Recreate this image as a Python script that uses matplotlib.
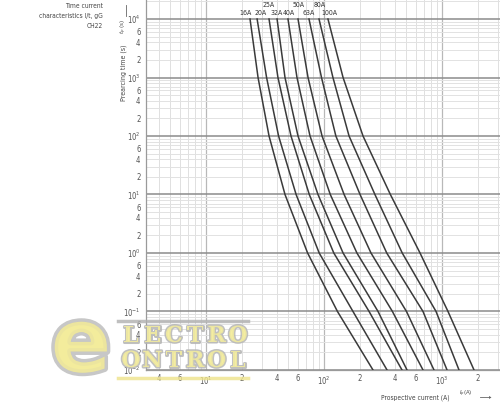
import numpy as np
import matplotlib
matplotlib.use("Agg")
import matplotlib.pyplot as plt
import matplotlib.patheffects as pe

plt.rcParams['font.family'] = ['DejaVu Sans']
plt.rcParams['font.stretch'] = 'condensed'

# prearcing time (s) at which the currents below are read
times = [1e4, 1e3, 1e2, 1e1, 1e0, 1e-1, 1e-2]

# prospective current (A) for each fuse rating
ratings = ['16A', '20A', '25A', '32A', '40A', '50A', '63A', '80A', '100A']
i_16 = [23.6, 27.6, 34.2, 46.7, 72.6, 130, 260]
i_20 = [27.1, 32.6, 41.2, 58.0, 91.0, 176, 342]
i_25 = [34.2, 40.7, 52.5, 75.0, 121, 241, 458]
i_32 = [40.0, 46.7, 60.2, 88.9, 145, 287, 505]
i_40 = [49.5, 59.0, 76.1, 113, 190, 380, 690]
i_50 = [60.2, 73.2, 96.2, 148, 250, 500, 855]
i_63 = [74.6, 95.2, 126, 202, 340, 690, 1103]
i_80 = [90.7, 119, 163, 270, 460, 890, 1393]
i_100 = [108, 145, 214, 365, 651, 1124, 1867]
currents = [i_16, i_20, i_25, i_32, i_40, i_50, i_63, i_80, i_100]

# where the rating labels sit above the 10^4 s line (current, A)
label_x = [21.8, 29.2, 34.2, 39.6, 50.5, 61.4, 74.6, 91.6, 112]
label_row = [0, 0, 1, 0, 0, 1, 0, 1, 0]  # 1 = upper row of labels

x_ticks = [4, 6, 10, 20, 40, 60, 100, 200, 400, 600, 1000, 2000]
x_labels = ['4', '6', '$10^{1}$', '2', '4', '6', '$10^{2}$', '2', '4', '6', '$10^{3}$', '2']
y_ticks = [1e-2, 2e-2, 4e-2, 6e-2, 1e-1, 2e-1, 4e-1, 6e-1, 1, 2, 4, 6,
           10, 20, 40, 60, 100, 200, 400, 600, 1e3, 2e3, 4e3, 6e3, 1e4]
y_labels = []
for v in y_ticks:
    e = int(np.floor(np.log10(v) + 1e-9))
    m = v / 10**e
    y_labels.append('$10^{%d}$' % e if round(m) == 1 else '%d' % round(m))

fig = plt.figure(figsize=(5.0, 4.09), dpi=100)
ax = fig.add_axes([0.292, 0.0954, 0.708, 0.9046])
ax.set_xscale('log')
ax.set_yscale('log')
ax.set_xlim(3.10, 3100)
ax.set_ylim(1e-2, 10**4.325)

# grid
for d in range(0, 4):
    for m in range(1, 10):
        v = m * 10**d
        if m == 1:
            ax.axvline(v, color='#b8b8b8', lw=0.9, zorder=1)
        else:
            ax.axvline(v, color='#e0e0e0', lw=0.7, zorder=1)
for d in range(-2, 5):
    for m in range(1, 10):
        v = m * 10.0**d
        if m == 1:
            ax.axhline(v, color='#8c8c8c', lw=1.1, zorder=1)
        else:
            ax.axhline(v, color='#e2e2e2', lw=0.7, zorder=1)

for name, cur, lx, row in zip(ratings, currents, label_x, label_row):
    ax.plot(cur, times, color='#3a3a3a', lw=1.1, zorder=3)
    ax.text(lx, 10**(4.1 + 0.14 * row), name, ha='center', va='center',
            fontsize=5, color='#333333')

ax.set_xticks(x_ticks)
ax.set_xticklabels(x_labels)
ax.set_yticks(y_ticks)
ax.set_yticklabels(y_labels)
ax.minorticks_off()
ax.tick_params(length=0, labelsize=5.5, labelcolor='#555555')
ax.tick_params(axis='x', pad=3)
ax.tick_params(axis='y', pad=4)
for s in ['top', 'right']:
    ax.spines[s].set_visible(False)
for s in ['left', 'bottom']:
    ax.spines[s].set_color('#9a9a9a')
    ax.spines[s].set_linewidth(0.9)

W, H = 500.0, 409.0
def fx(px):
    return px / W
def fy(py):
    return 1 - py / H

fig.text(fx(103), fy(3), 'Time current\ncharacteristics I/t, gG\nCH22',
         ha='right', va='top', fontsize=4.8, color='#444444', linespacing=1.75)
fig.text(fx(124), fy(73), 'Prearcing time (s)', rotation=90, ha='center',
         va='center', fontsize=5, color='#444444')
fig.text(fx(124), fy(26), '$t_p$ (s)', rotation=90, ha='center', va='center',
         fontsize=4.5, color='#444444')
fig.add_artist(plt.Line2D([fx(126), fx(126)], [fy(16), fy(5)], color='#666666', lw=0.6))
fig.text(fx(415), fy(398), 'Prospective current (A)', ha='center', va='center',
         fontsize=4.8, color='#444444')
fig.text(fx(466), fy(394), '$I_p$(A)', ha='center', va='center',
         fontsize=4.2, color='#444444')
fig.add_artist(plt.Line2D([fx(480), fx(490)], [fy(397), fy(397)], color='#666666', lw=0.6))
fig.text(fx(490), fy(397), '\u25B8', ha='center', va='center', fontsize=4, color='#666666')

# watermark logo
stroke = [pe.withStroke(linewidth=2.2, foreground='#b5b5b5')]
fig.text(fx(81), fy(347), 'e', ha='center', va='center', fontsize=64,
         fontweight='bold', family='DejaVu Sans', fontstretch='normal',
         color='#f3ec9a', alpha=0.85,
         path_effects=[pe.withStroke(linewidth=5, foreground='#bdbdbd')])
fig.add_artist(plt.Line2D([fx(118), fx(248)], [fy(321), fy(321)], color='#b0b0b0', lw=2.5, alpha=0.8))
fig.add_artist(plt.Line2D([fx(118), fx(248)], [fy(378), fy(378)], color='#eee38a', lw=2.5, alpha=0.8))
for word, ypx in [('LECTRO', 336), ('ONTROL', 361)]:
    for k, ch in enumerate(word):
        fig.text(fx(131 + 21.4 * k), fy(ypx), ch, ha='center', va='center',
                 fontsize=16, fontweight='bold', family='DejaVu Serif',
                 fontstretch='normal', color='#f5ee9f', alpha=0.85,
                 path_effects=stroke)

fig.savefig('out.png', dpi=100, facecolor='white')
